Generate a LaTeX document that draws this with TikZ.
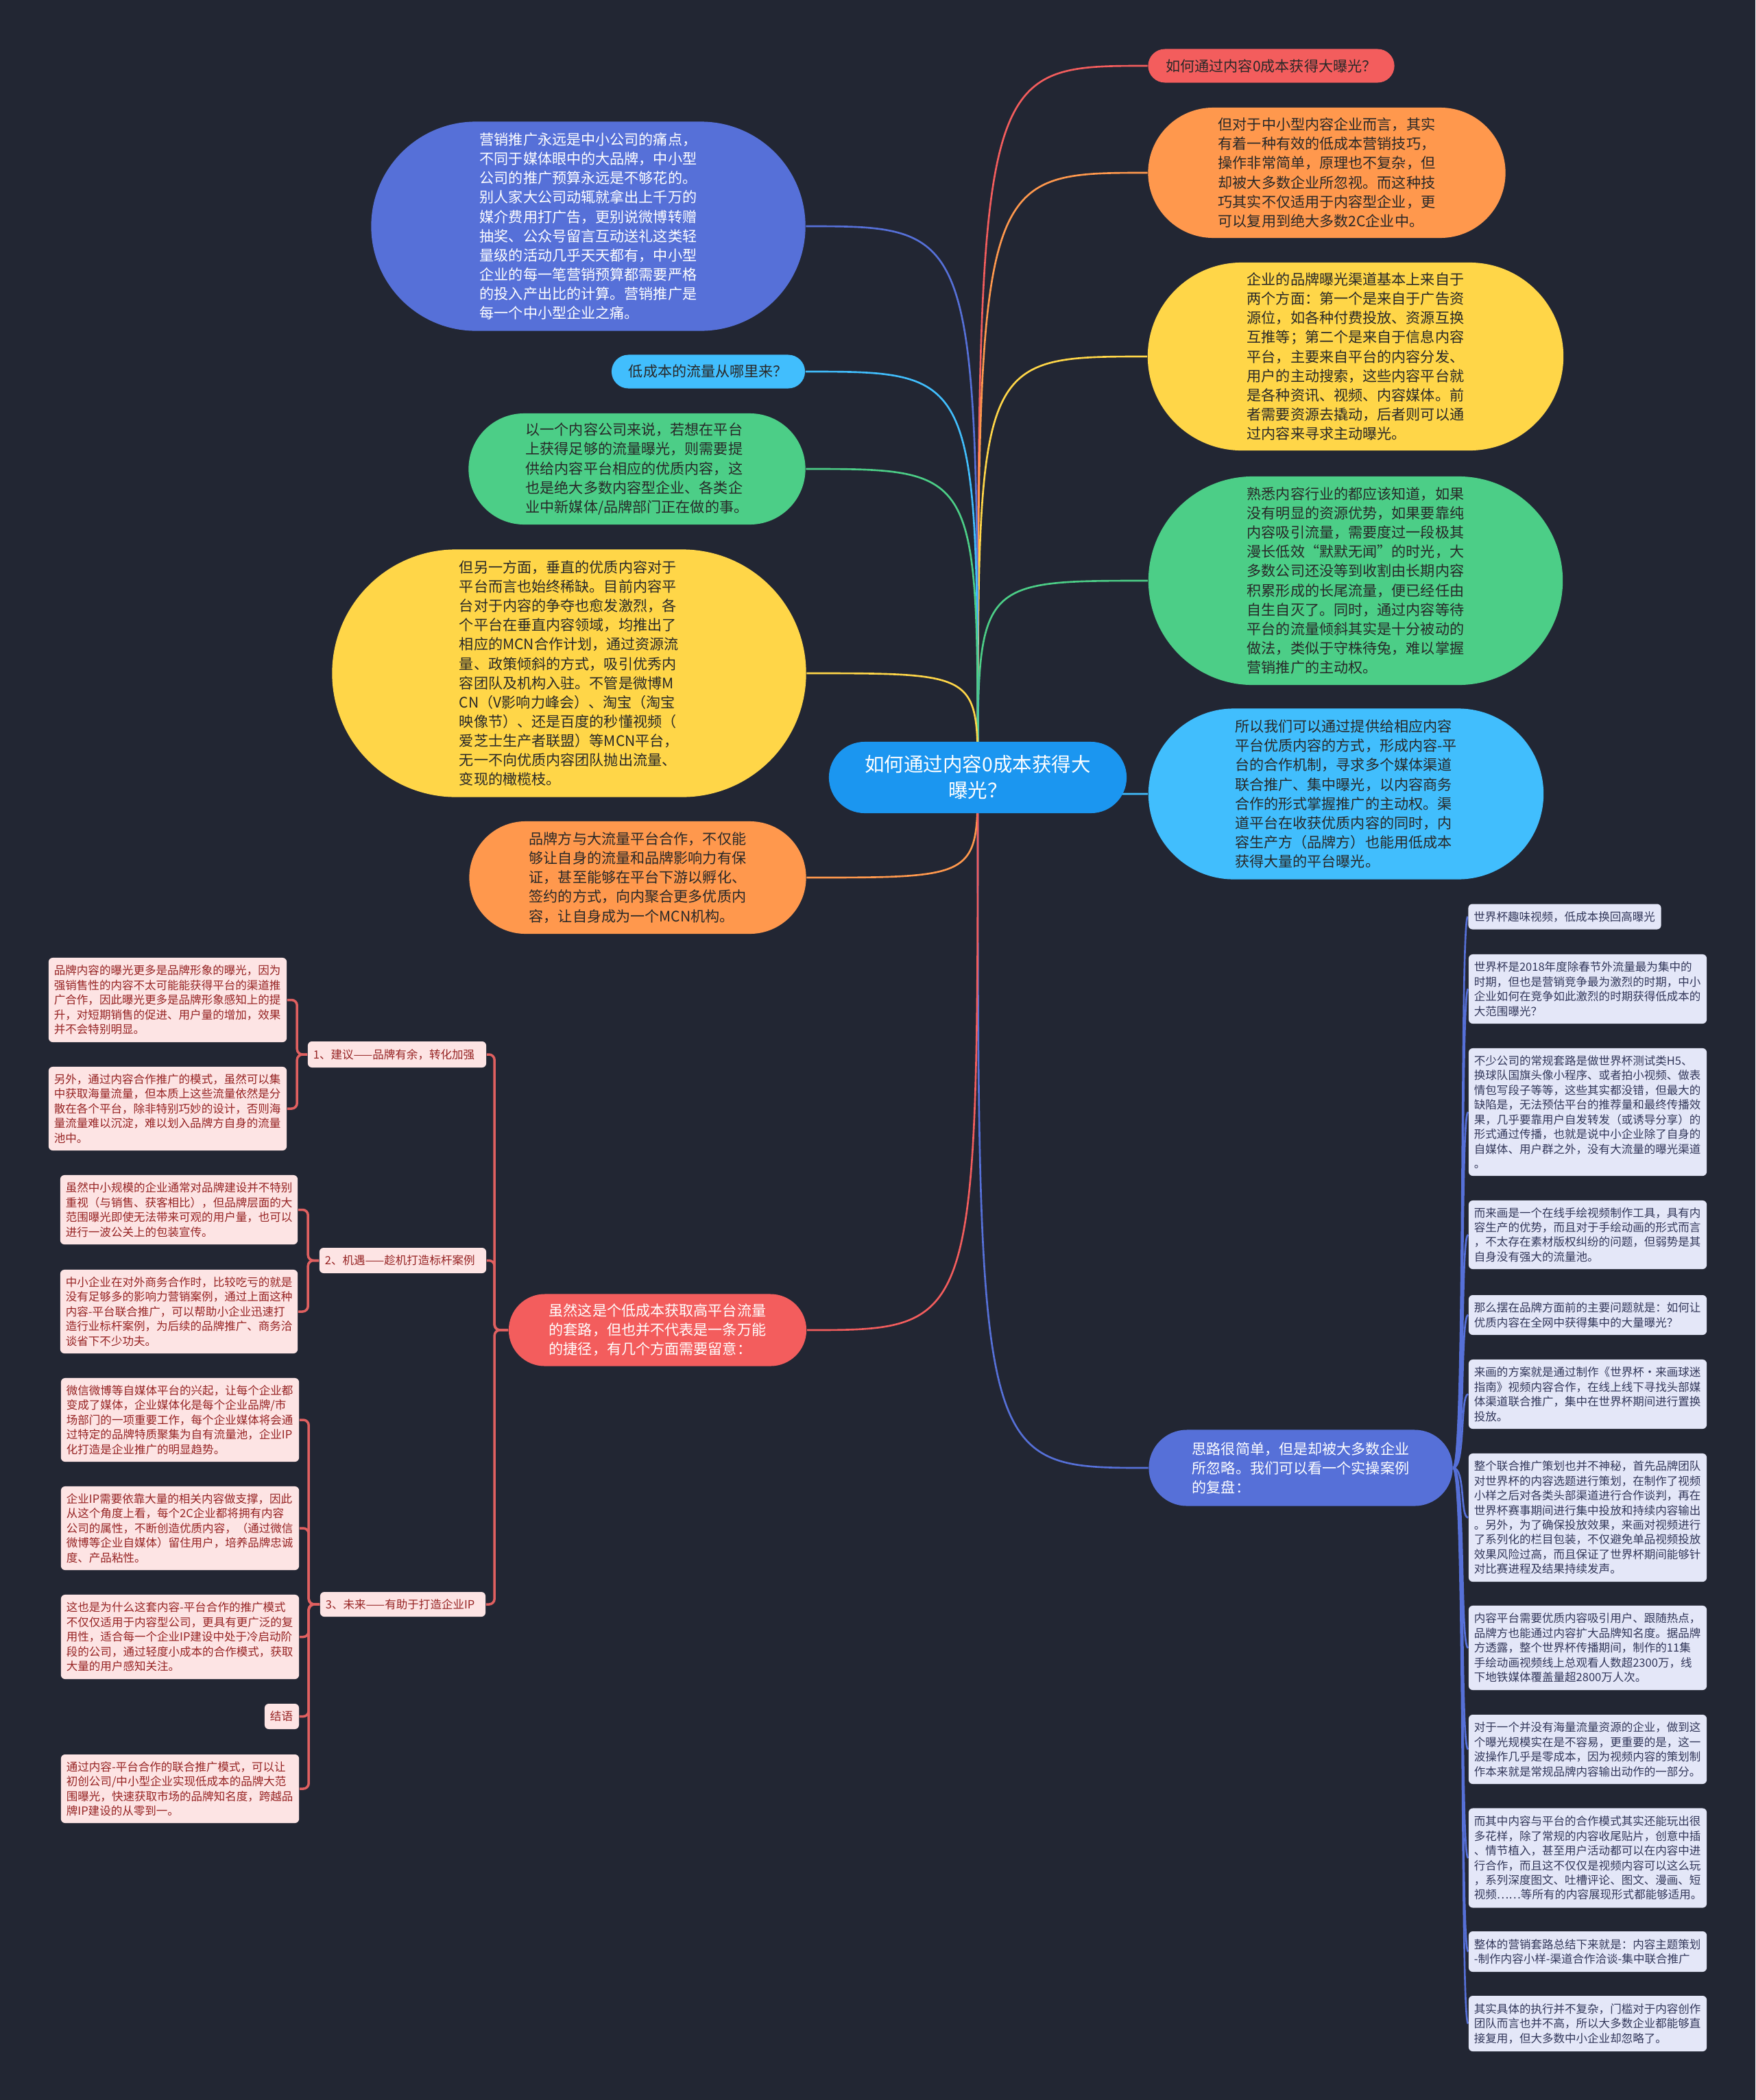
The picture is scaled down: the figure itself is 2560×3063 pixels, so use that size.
\documentclass[tikz,border=0pt]{standalone}
\usepackage{fontspec}
\setmainfont{Noto Sans CJK SC}
\usetikzlibrary{shapes.misc,backgrounds}
\definecolor{bgnavy}{RGB}{34,38,51}
\definecolor{mapblue}{RGB}{27,150,240}
\definecolor{mapred}{RGB}{243,93,93}
\definecolor{maporange}{RGB}{255,152,77}
\definecolor{mapyellow}{RGB}{255,214,72}
\definecolor{mapgreen}{RGB}{76,206,135}
\definecolor{mapsky}{RGB}{65,190,253}
\definecolor{mapviolet}{RGB}{86,112,216}
\definecolor{pinkfill}{RGB}{253,228,228}
\definecolor{pinktext}{RGB}{150,35,35}
\definecolor{pinkline}{RGB}{224,96,96}
\definecolor{lavfill}{RGB}{228,231,248}
\definecolor{lavtext}{RGB}{50,55,90}
\definecolor{darktext}{RGB}{40,40,40}
\begin{document}
\begin{tikzpicture}[
    x=0.01cm, y=-0.01cm,
    topic/.style={rounded rectangle, inner sep=0pt, align=left, font=\fontsize{6}{8}\selectfont, text=darktext},
    rootbox/.style={rounded rectangle, fill=mapblue, text=white, align=center, inner sep=0pt, font=\fontsize{8.1}{10.8}\selectfont},
    leaf/.style={rectangle, rounded corners=0.06cm, inner xsep=0.08cm, inner ysep=0.04cm, align=left, font=\fontsize{4.7}{6.1}\selectfont},
    pinkleaf/.style={leaf, fill=pinkfill, text=pinktext},
    lavleaf/.style={leaf, fill=lavfill, text=lavtext},
    branch/.style={line width=0.75pt},
    bracket/.style={line width=1pt, draw=pinkline, rounded corners=0.08cm}
]
    \node[rootbox, minimum width=4.34cm, minimum height=1.04cm] (root) at (1426,1134) {如何通过内容0成本获得大\\曝光？};

    \node[topic, fill=mapred, align=center, minimum width=3.59cm, minimum height=0.49cm] (r1) at (1854,96) {如何通过内容0成本获得大曝光？};
    \node[topic, fill=maporange, minimum width=5.21cm, minimum height=1.90cm] (r2) at (1935,252) {但对于中小型内容企业而言，其实\\有着一种有效的低成本营销技巧，\\操作非常简单，原理也不复杂，但\\却被大多数企业所忽视。而这种技\\巧其实不仅适用于内容型企业，更\\可以复用到绝大多数2C企业中。};
    \node[topic, fill=mapyellow, minimum width=6.06cm, minimum height=2.74cm] (r3) at (1977,520) {企业的品牌曝光渠道基本上来自于\\两个方面：第一个是来自于广告资\\源位，如各种付费投放、资源互换\\互推等；第二个是来自于信息内容\\平台，主要来自平台的内容分发、\\用户的主动搜索，这些内容平台就\\是各种资讯、视频、内容媒体。前\\者需要资源去撬动，后者则可以通\\过内容来寻求主动曝光。};
    \node[topic, fill=mapgreen, minimum width=6.04cm, minimum height=3.04cm] (r4) at (1977,847) {熟悉内容行业的都应该知道，如果\\没有明显的资源优势，如果要靠纯\\内容吸引流量，需要度过一段极其\\漫长低效“默默无闻”的时光，大\\多数公司还没等到收割由长期内容\\积累形成的长尾流量，便已经任由\\自生自灭了。同时，通过内容等待\\平台的流量倾斜其实是十分被动的\\做法，类似于守株待兔，难以掌握\\营销推广的主动权。};
    \node[topic, fill=mapsky, minimum width=5.76cm, minimum height=2.49cm] (r5) at (1963,1158) {所以我们可以通过提供给相应内容\\平台优质内容的方式，形成内容-平\\台的合作机制，寻求多个媒体渠道\\联合推广、集中曝光，以内容商务\\合作的形式掌握推广的主动权。渠\\道平台在收获优质内容的同时，内\\容生产方（品牌方）也能用低成本\\获得大量的平台曝光。};
    \node[topic, fill=mapviolet, text=white, minimum width=4.43cm, minimum height=1.11cm] (r6) at (1897,2141) {思路很简单，但是却被大多数企业\\所忽略。我们可以看一个实操案例\\的复盘：};

    \node[topic, fill=mapviolet, text=white, minimum width=6.33cm, minimum height=3.05cm] (l1) at (858,330) {营销推广永远是中小公司的痛点，\\不同于媒体眼中的大品牌，中小型\\公司的推广预算永远是不够花的。\\别人家大公司动辄就拿出上千万的\\媒介费用打广告，更别说微博转赠\\抽奖、公众号留言互动送礼这类轻\\量级的活动几乎天天都有，中小型\\企业的每一笔营销预算都需要严格\\的投入产出比的计算。营销推广是\\每一个中小型企业之痛。};
    \node[topic, fill=mapsky, align=center, minimum width=2.82cm, minimum height=0.49cm] (l2) at (1033,542) {低成本的流量从哪里来？};
    \node[topic, fill=mapgreen, minimum width=4.91cm, minimum height=1.62cm] (l3) at (929,684) {以一个内容公司来说，若想在平台\\上获得足够的流量曝光，则需要提\\供给内容平台相应的优质内容，这\\也是绝大多数内容型企业、各类企\\业中新媒体/品牌部门正在做的事。};
    \node[topic, fill=mapyellow, minimum width=6.91cm, minimum height=3.61cm] (l4) at (830,982) {但另一方面，垂直的优质内容对于\\平台而言也始终稀缺。目前内容平\\台对于内容的争夺也愈发激烈，各\\个平台在垂直内容领域，均推出了\\相应的MCN合作计划，通过资源流\\量、政策倾斜的方式，吸引优秀内\\容团队及机构入驻。不管是微博M\\CN（V影响力峰会）、淘宝（淘宝\\映像节）、还是百度的秒懂视频（\\爱芝士生产者联盟）等MCN平台，\\无一不向优质内容团队抛出流量、\\变现的橄榄枝。};
    \node[topic, fill=maporange, minimum width=4.91cm, minimum height=1.64cm] (l5) at (930,1280) {品牌方与大流量平台合作，不仅能\\够让自身的流量和品牌影响力有保\\证，甚至能够在平台下游以孵化、\\签约的方式，向内聚合更多优质内\\容，让自身成为一个MCN机构。};
    \node[topic, fill=mapred, text=white, minimum width=4.34cm, minimum height=1.05cm] (l6) at (959,1940) {虽然这是个低成本获取高平台流量\\的套路，但也并不代表是一条万能\\的捷径，有几个方面需要留意：};

    \node[pinkleaf, text width=2.44cm, minimum height=0.38cm] (s1) at (579,1538) {1、建议——品牌有余，转化加强};
    \node[pinkleaf, text width=3.31cm, minimum height=1.23cm] (s1a) at (244.5,1458.5) {品牌内容的曝光更多是品牌形象的曝光，因为\\强销售性的内容不太可能能获得平台的渠道推\\广合作，因此曝光更多是品牌形象感知上的提\\升，对短期销售的促进、用户量的增加，效果\\并不会特别明显。};
    \node[pinkleaf, text width=3.31cm, minimum height=1.22cm] (s1b) at (244.5,1617) {另外，通过内容合作推广的模式，虽然可以集\\中获取海量流量，但本质上这些流量依然是分\\散在各个平台，除非特别巧妙的设计，否则海\\量流量难以沉淀，难以划入品牌方自身的流量\\池中。};
    \node[pinkleaf, text width=2.27cm, minimum height=0.37cm] (s2) at (587.5,1838.5) {2、机遇——趁机打造标杆案例};
    \node[pinkleaf, text width=3.30cm, minimum height=1.01cm] (s2a) at (261,1764.5) {虽然中小规模的企业通常对品牌建设并不特别\\重视（与销售、获客相比），但品牌层面的大\\范围曝光即使无法带来可观的用户量，也可以\\进行一波公关上的包装宣传。};
    \node[pinkleaf, text width=3.30cm, minimum height=1.22cm] (s2b) at (261,1913) {中小企业在对外商务合作时，比较吃亏的就是\\没有足够多的影响力营销案例，通过上面这种\\内容-平台联合推广，可以帮助小企业迅速打\\造行业标杆案例，为后续的品牌推广、商务洽\\谈省下不少功夫。};
    \node[pinkleaf, text width=2.25cm, minimum height=0.36cm] (s3) at (587.5,2340) {3、未来——有助于打造企业IP};
    \node[pinkleaf, text width=3.31cm, minimum height=1.22cm] (s3a) at (262.5,2071) {微信微博等自媒体平台的兴起，让每个企业都\\变成了媒体，企业媒体化是每个企业品牌/市\\场部门的一项重要工作，每个企业媒体将会通\\过特定的品牌特质聚集为自有流量池，企业IP\\化打造是企业推广的明显趋势。};
    \node[pinkleaf, text width=3.31cm, minimum height=1.22cm] (s3b) at (262.5,2229) {企业IP需要依靠大量的相关内容做支撑，因此\\从这个角度上看，每个2C企业都将拥有内容\\公司的属性，不断创造优质内容，（通过微信\\微博等企业自媒体）留住用户，培养品牌忠诚\\度、产品粘性。};
    \node[pinkleaf, text width=3.31cm, minimum height=1.23cm] (s3c) at (262.5,2387.5) {这也是为什么这套内容-平台合作的推广模式\\不仅仅适用于内容型公司，更具有更广泛的复\\用性，适合每一个企业IP建设中处于冷启动阶\\段的公司，通过轻度小成本的合作模式，获取\\大量的用户感知关注。};
    \node[pinkleaf, text width=0.34cm, minimum height=0.37cm] (s3d) at (411,2503.5) {结语};
    \node[pinkleaf, text width=3.31cm, minimum height=1.00cm] (s3e) at (262.5,2609) {通过内容-平台合作的联合推广模式，可以让\\初创公司/中小型企业实现低成本的品牌大范\\围曝光，快速获取市场的品牌知名度，跨越品\\牌IP建设的从零到一。};

    \node[lavleaf, text width=2.65cm, minimum height=0.37cm] (t1) at (2282,1337) {世界杯趣味视频，低成本换回高曝光};
    \node[lavleaf, text width=3.31cm, minimum height=1.01cm] (t2) at (2315.5,1442.5) {世界杯是2018年度除春节外流量最为集中的\\时期，但也是营销竞争最为激烈的时期，中小\\企业如何在竞争如此激烈的时期获得低成本的\\大范围曝光？};
    \node[lavleaf, text width=3.31cm, minimum height=1.86cm] (t3) at (2315.5,1622) {不少公司的常规套路是做世界杯测试类H5、\\换球队国旗头像小程序、或者拍小视频、做表\\情包写段子等等，这些其实都没错，但最大的\\缺陷是，无法预估平台的推荐量和最终传播效\\果，几乎要靠用户自发转发（或诱导分享）的\\形式通过传播，也就是说中小企业除了自身的\\自媒体、用户群之外，没有大流量的曝光渠道\\。};
    \node[lavleaf, text width=3.31cm, minimum height=1.00cm] (t4) at (2315.5,1801) {而来画是一个在线手绘视频制作工具，具有内\\容生产的优势，而且对于手绘动画的形式而言\\，不太存在素材版权纠纷的问题，但弱势是其\\自身没有强大的流量池。};
    \node[lavleaf, text width=3.31cm, minimum height=0.58cm] (t5) at (2315.5,1918) {那么摆在品牌方面前的主要问题就是：如何让\\优质内容在全网中获得集中的大量曝光？};
    \node[lavleaf, text width=3.31cm, minimum height=1.01cm] (t6) at (2315.5,2033.5) {来画的方案就是通过制作《世界杯·来画球迷\\指南》视频内容合作，在线上线下寻找头部媒\\体渠道联合推广，集中在世界杯期间进行置换\\投放。};
    \node[lavleaf, text width=3.31cm, minimum height=1.87cm] (t7) at (2315.5,2213.5) {整个联合推广策划也并不神秘，首先品牌团队\\对世界杯的内容选题进行策划，在制作了视频\\小样之后对各类头部渠道进行合作谈判，再在\\世界杯赛事期间进行集中投放和持续内容输出\\。另外，为了确保投放效果，来画对视频进行\\了系列化的栏目包装，不仅避免单品视频投放\\效果风险过高，而且保证了世界杯期间能够针\\对比赛进程及结果持续发声。};
    \node[lavleaf, text width=3.31cm, minimum height=1.23cm] (t8) at (2315.5,2403.5) {内容平台需要优质内容吸引用户、跟随热点，\\品牌方也能通过内容扩大品牌知名度。据品牌\\方透露，整个世界杯传播期间，制作的11集\\手绘动画视频线上总观看人数超2300万，线\\下地铁媒体覆盖量超2800万人次。};
    \node[lavleaf, text width=3.31cm, minimum height=1.01cm] (t9) at (2315.5,2551.5) {对于一个并没有海量流量资源的企业，做到这\\个曝光规模实在是不容易，更重要的是，这一\\波操作几乎是零成本，因为视频内容的策划制\\作本来就是常规品牌内容输出动作的一部分。};
    \node[lavleaf, text width=3.31cm, minimum height=1.45cm] (t10) at (2315.5,2710) {而其中内容与平台的合作模式其实还能玩出很\\多花样，除了常规的内容收尾贴片，创意中插\\、情节植入，甚至用户活动都可以在内容中进\\行合作，而且这不仅仅是视频内容可以这么玩\\，系列深度图文、吐槽评论、图文、漫画、短\\视频……等所有的内容展现形式都能够适用。};
    \node[lavleaf, text width=3.31cm, minimum height=0.59cm] (t11) at (2315.5,2846.5) {整体的营销套路总结下来就是：内容主题策划\\-制作内容小样-渠道合作洽谈-集中联合推广};
    \node[lavleaf, text width=3.31cm, minimum height=0.81cm] (t12) at (2315.5,2951.5) {其实具体的执行并不复杂，门槛对于内容创作\\团队而言也并不高，所以大多数企业都能够直\\接复用，但大多数中小企业却忽略了。};

    \begin{scope}[on background layer]
    \fill[bgnavy] (0,0) rectangle (2560,3063);
    \draw[branch, mapred] (root.center) .. controls (root.center |- r1.west) .. (r1.west);
    \draw[branch, maporange] (root.center) .. controls (root.center |- r2.west) .. (r2.west);
    \draw[branch, mapyellow] (root.center) .. controls (root.center |- r3.west) .. (r3.west);
    \draw[branch, mapgreen] (root.center) .. controls (root.center |- r4.west) .. (r4.west);
    \draw[branch, mapsky] (root.center) .. controls (root.center |- r5.west) .. (r5.west);
    \draw[branch, mapviolet] (root.center) .. controls (root.center |- r6.west) .. (r6.west);
    \draw[branch, mapviolet] (root.center) .. controls (root.center |- l1.east) .. (l1.east);
    \draw[branch, mapsky] (root.center) .. controls (root.center |- l2.east) .. (l2.east);
    \draw[branch, mapgreen] (root.center) .. controls (root.center |- l3.east) .. (l3.east);
    \draw[branch, mapyellow] (root.center) .. controls (root.center |- l4.east) .. (l4.east);
    \draw[branch, maporange] (root.center) .. controls (root.center |- l5.east) .. (l5.east);
    \draw[branch, mapred] (root.center) .. controls (root.center |- l6.east) .. (l6.east);

    \draw[bracket] (l6.west) -- ++(-20,0) |- (s1.east);
    \draw[bracket] (l6.west) -- ++(-20,0) |- (s2.east);
    \draw[bracket] (l6.west) -- ++(-20,0) |- (s3.east);
    \draw[bracket] (s1.west) -- ++(-15,0) |- (s1a.east);
    \draw[bracket] (s1.west) -- ++(-15,0) |- (s1b.east);
    \draw[bracket] (s2.west) -- ++(-16,0) |- (s2a.east);
    \draw[bracket] (s2.west) -- ++(-16,0) |- (s2b.east);
    \draw[bracket] (s3.west) -- ++(-16,0) |- (s3a.east);
    \draw[bracket] (s3.west) -- ++(-16,0) |- (s3b.east);
    \draw[bracket] (s3.west) -- ++(-16,0) |- (s3c.east);
    \draw[bracket] (s3.west) -- ++(-16,0) |- (s3d.east);
    \draw[bracket] (s3.west) -- ++(-16,0) |- (s3e.east);

    \draw[branch, mapviolet] (r6.east) .. controls +(18,0) and +(-12,0) .. (t1.west);
    \draw[branch, mapviolet] (r6.east) .. controls +(18,0) and +(-12,0) .. (t2.west);
    \draw[branch, mapviolet] (r6.east) .. controls +(18,0) and +(-12,0) .. (t3.west);
    \draw[branch, mapviolet] (r6.east) .. controls +(18,0) and +(-12,0) .. (t4.west);
    \draw[branch, mapviolet] (r6.east) .. controls +(18,0) and +(-12,0) .. (t5.west);
    \draw[branch, mapviolet] (r6.east) .. controls +(18,0) and +(-12,0) .. (t6.west);
    \draw[branch, mapviolet] (r6.east) .. controls +(18,0) and +(-12,0) .. (t7.west);
    \draw[branch, mapviolet] (r6.east) .. controls +(18,0) and +(-12,0) .. (t8.west);
    \draw[branch, mapviolet] (r6.east) .. controls +(18,0) and +(-12,0) .. (t9.west);
    \draw[branch, mapviolet] (r6.east) .. controls +(18,0) and +(-12,0) .. (t10.west);
    \draw[branch, mapviolet] (r6.east) .. controls +(18,0) and +(-12,0) .. (t11.west);
    \draw[branch, mapviolet] (r6.east) .. controls +(18,0) and +(-12,0) .. (t12.west);
    \end{scope}
\end{tikzpicture}
\end{document}
